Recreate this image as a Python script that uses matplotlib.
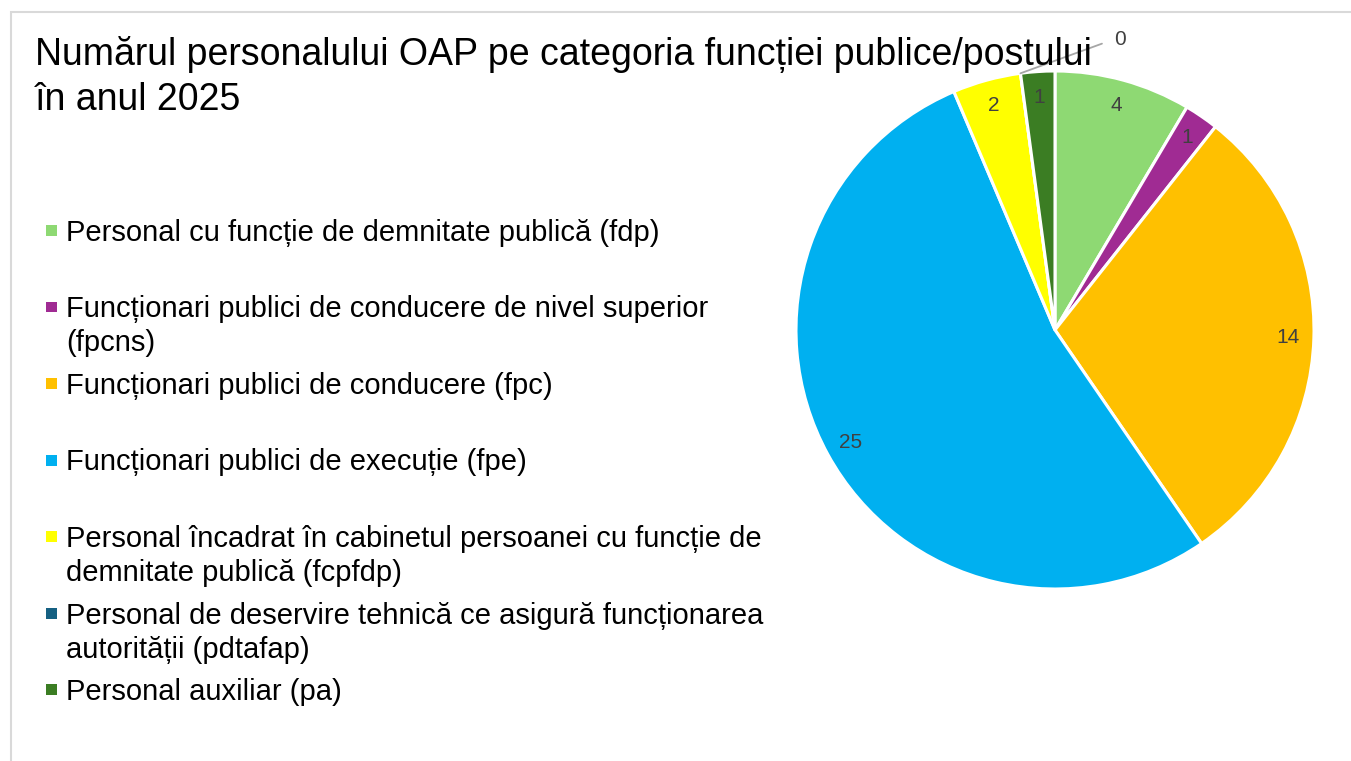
import numpy as np
import matplotlib.pyplot as plt
from matplotlib.patches import Rectangle

plt.rcParams['font.family'] = ['Liberation Sans', 'DejaVu Sans']

# Data
categories = ['Personal cu funcție de demnitate publică (fdp)',
              'Funcționari publici de conducere de nivel superior\n(fpcns)',
              'Funcționari publici de conducere (fpc)',
              'Funcționari publici de execuție (fpe)',
              'Personal încadrat în cabinetul persoanei cu funcție de\ndemnitate publică (fcpfdp)',
              'Personal de deservire tehnică ce asigură funcționarea\nautorității (pdtafap)',
              'Personal auxiliar (pa)']
values = [4, 1, 14, 25, 2, 0, 1]
colors = ['#8ED973', '#A02B93', '#FFC000', '#00B0F0', '#FFFF00', '#156082', '#3B7D23']
title = ['Numărul personalului OAP pe categoria funcției publice/postului', 'în anul 2025']

W, H = 1351, 761
fig = plt.figure(figsize=(W / 100, H / 100), dpi=100)

# chart border
fig.patches.append(Rectangle((11 / W, -0.01), 1.02, 1 - 12 / H + 0.01, transform=fig.transFigure,
                             fill=False, edgecolor='#D9D9D9', linewidth=1.5))

# pie axes, centre (1055, 330) px, radius 259 px
cx, cy, r, half = 1055, 330, 259, 280
ax = fig.add_axes([(cx - half) / W, (H - cy - half) / H, 2 * half / W, 2 * half / H])
L = half / r

labels = [str(v) if v > 0 else '' for v in values]
wedges, texts = ax.pie(values, colors=colors, startangle=90, counterclock=False,
                       labels=labels, labeldistance=0.9, radius=1,
                       wedgeprops=dict(edgecolor='white', linewidth=2.2),
                       textprops=dict(color='#404040', fontsize=15))
for t in texts:
    t.set_ha('center')
    t.set_va('center')
ax.set_xlim(-L, L)
ax.set_ylim(-L, L)
ax.axis('off')

# leader label for zero slice
total = sum(values)
ang = np.deg2rad(90 - 360 * sum(values[:5]) / total)
ax.annotate('0', xy=(np.cos(ang), np.sin(ang)), xytext=(0.25, 1.12),
            ha='center', va='center', color='#404040', fontsize=15,
            arrowprops=dict(arrowstyle='-', color='#A6A6A6', lw=1.3,
                            connectionstyle='angle,angleA=0,angleB=20,rad=0',
                            shrinkA=7, shrinkB=0))

# title
for k, line in enumerate(title):
    fig.text(35 / W, 1 - (65 + 45 * k) / H, line, ha='left', va='baseline',
             fontsize=27, color='black')

# legend
y0, step, lh = 231, 76.5, 34
for i, (lab, c) in enumerate(zip(categories, colors)):
    y = y0 + i * step
    fig.patches.append(Rectangle((46 / W, 1 - (y + 5) / H), 11 / W, 11 / H,
                                 transform=fig.transFigure, facecolor=c, edgecolor='none'))
    for k, line in enumerate(lab.split('\n')):
        fig.text(66 / W, 1 - (y + 10 + k * lh) / H, line, ha='left', va='baseline',
                 fontsize=21, color='black')

fig.savefig('out.png', dpi=100)
